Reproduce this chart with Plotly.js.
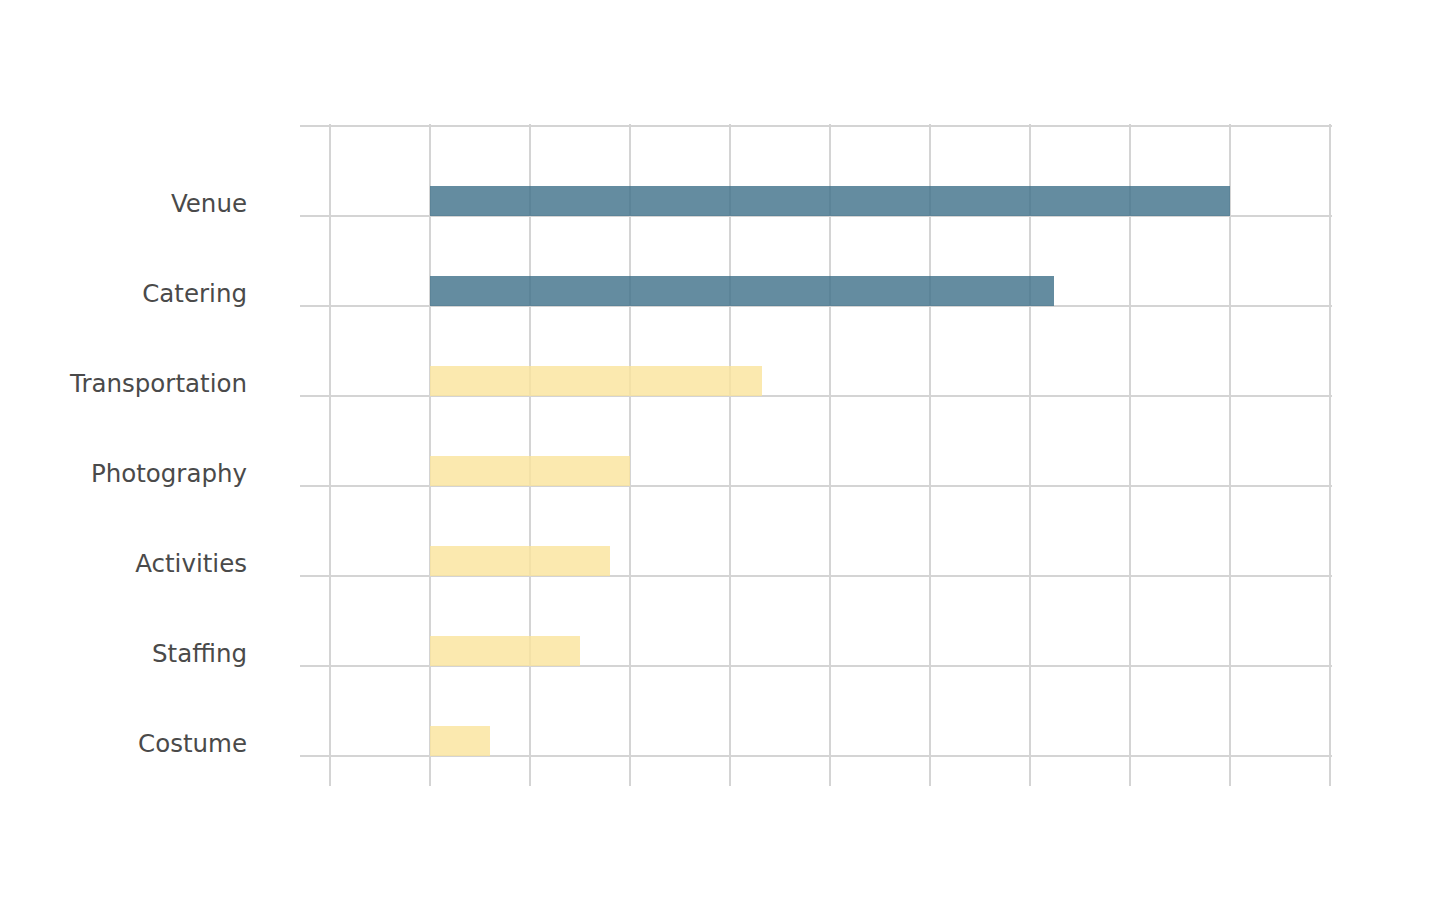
<!DOCTYPE html>
<html>
<head>
<meta charset="utf-8">
<script src="https://cdn.plot.ly/plotly-3.0.1.min.js"></script>
<style>html,body{margin:0;padding:0;background:#fff;}#chart{width:1440px;height:912px;}</style>
</head>
<body>
<div id="chart"></div>
<script>
const categories = ["Venue", "Catering", "Transportation", "Photography", "Activities", "Staffing", "Costume"];
const costs = [8000, 6240, 3320, 2000, 1800, 1500, 600];
const highlighted = [true, true, false, false, false, false, false];

const pos = categories.map((c, i) => i);
const barColors = highlighted.map(h => h ? "rgb(61,111,136)" : "rgb(250,227,155)");

const yRange = [categories.length - 1 + 1/3, -1 - 2/90];

const traces = [
  {
    type: "bar",
    orientation: "h",
    x: costs,
    y: pos,
    base: 0,
    width: 1/3,
    offset: -1/3,
    marker: {color: barColors, opacity: 0.8, line: {width: 0}},
    hoverinfo: "x+text",
    text: categories,
    textposition: "none",
    showlegend: false
  },
  {
    type: "scatter",
    mode: "markers",
    x: [null],
    y: [null],
    yaxis: "y2",
    showlegend: false,
    hoverinfo: "skip"
  }
];

const layout = {
  width: 1440,
  height: 912,
  paper_bgcolor: "#ffffff",
  plot_bgcolor: "#ffffff",
  margin: {l: 300, r: 108, t: 124, b: 126},
  showlegend: false,
  xaxis: {
    range: [-1300, 9020],
    tickmode: "linear",
    tick0: -1000,
    dtick: 1000,
    showticklabels: false,
    ticks: "",
    showgrid: true,
    gridcolor: "#d4d4d4",
    gridwidth: 1.3,
    zeroline: false,
    showline: false,
    fixedrange: true
  },
  yaxis: {
    range: yRange,
    tickmode: "array",
    tickvals: [-1].concat(pos),
    showticklabels: false,
    ticks: "",
    showgrid: true,
    gridcolor: "#d4d4d4",
    gridwidth: 1.3,
    zeroline: false,
    showline: false,
    fixedrange: true
  },
  yaxis2: {
    overlaying: "y",
    side: "left",
    range: yRange,
    tickmode: "array",
    tickvals: pos.map(p => p - 0.135),
    ticktext: categories,
    showgrid: false,
    zeroline: false,
    showline: false,
    ticks: "",
    ticklabelstandoff: 52,
    tickfont: {family: "DejaVu Sans, Verdana, sans-serif", size: 24.5, color: "#4a4a4a"},
    fixedrange: true
  }
};

Plotly.newPlot("chart", traces, layout, {displayModeBar: false, staticPlot: true});
</script>
</body>
</html>
